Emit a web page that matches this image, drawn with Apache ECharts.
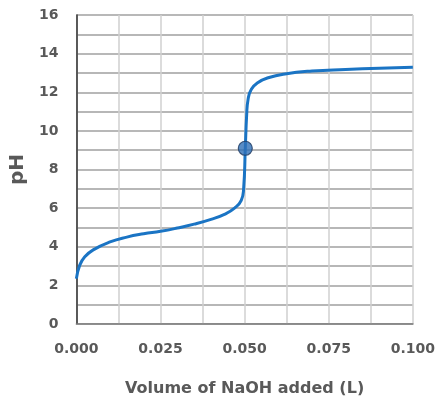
<!DOCTYPE html>
<html>
<head>
<meta charset="utf-8">
<script src="https://cdn.jsdelivr.net/npm/echarts@6/dist/echarts.min.js"></script>
<style>
  html, body { margin: 0; padding: 0; background: #ffffff; }
  #chart { width: 438px; height: 402px; }
</style>
</head>
<body>
<div id="chart"></div>
<script>
// Volume of NaOH added (L) and pH values
const volumes = [0.0000, 0.0010, 0.0025, 0.0050, 0.0100, 0.0150, 0.0200, 0.0250, 0.0300, 0.0350, 0.0400, 0.0440, 0.0470, 0.0490, 0.0497, 0.0502, 0.0506, 0.0510, 0.0520, 0.0540, 0.0570, 0.0620, 0.0700, 0.0800, 0.0900, 0.1000];
const phValues = [2.35, 3.05, 3.48, 3.84, 4.25, 4.50, 4.67, 4.80, 4.97, 5.17, 5.42, 5.68, 6.00, 6.40, 7.00, 9.10, 10.80, 11.60, 12.15, 12.50, 12.75, 12.95, 13.10, 13.18, 13.24, 13.29];
// equivalence point marker
const markerPoint = [0.0502, 9.1];
const xTickLabels = ['0.000', '0.025', '0.050', '0.075', '0.100'];

const curve = volumes.map((v, i) => [v, phValues[i]]);

const chart = echarts.init(document.getElementById('chart'), null, { renderer: 'canvas' });
const labelFont = { fontFamily: 'DejaVu Sans', fontWeight: 'bold', fontSize: 14, color: '#595959' };

chart.setOption({
  animation: false,
  backgroundColor: '#ffffff',
  grid: { left: 73, top: 15, right: 25, bottom: 76, containLabel: false },
  xAxis: [{
    type: 'value',
    min: 0, max: 0.1, interval: 0.025,
    name: 'Volume of NaOH added (L)',
    nameLocation: 'middle',
    nameGap: 57,
    nameTextStyle: { fontFamily: 'DejaVu Sans', fontWeight: 'bold', fontSize: 16, color: '#595959' },
    axisLine: { show: true, lineStyle: { color: '#d0d0d0', width: 1 } },
    axisTick: { show: false },
    minorTick: { show: false, splitNumber: 2 },
    axisLabel: Object.assign({ margin: 18, formatter: (v) => {
      const idx = Math.round(v / 0.025);
      return xTickLabels[idx] !== undefined ? xTickLabels[idx] : '';
    } }, labelFont),
    splitLine: { show: true, lineStyle: { color: '#d0d0d0', width: 1.5 } },
    minorSplitLine: { show: true, lineStyle: { color: '#d0d0d0', width: 1.5 } }
  }, {
    type: 'value',
    position: 'top',
    min: 0, max: 0.1,
    axisLine: { show: true, lineStyle: { color: '#7a7a7a', width: 1.5 } },
    axisTick: { show: false },
    axisLabel: { show: false },
    splitLine: { show: false }
  }],
  yAxis: [{
    type: 'value',
    min: 0, max: 16, interval: 2,
    name: 'pH',
    nameLocation: 'middle',
    nameGap: 40,
    nameTextStyle: { fontFamily: 'DejaVu Sans', fontWeight: 'bold', fontSize: 20, color: '#595959' },
    axisLine: { show: true, lineStyle: { color: '#d0d0d0', width: 1 } },
    axisTick: { show: false },
    minorTick: { show: false, splitNumber: 2 },
    axisLabel: Object.assign({ margin: 18 }, labelFont),
    splitLine: { show: true, lineStyle: { color: '#a0a0a0', width: 1.5 } },
    minorSplitLine: { show: true, lineStyle: { color: '#a0a0a0', width: 1.5 } }
  }, {
    type: 'value',
    position: 'right',
    min: 0, max: 16,
    axisLine: { show: true, lineStyle: { color: '#303030', width: 1.5 } },
    axisTick: { show: false },
    axisLabel: { show: false },
    splitLine: { show: false }
  }],
  series: [{
    type: 'line',
    data: curve,
    smooth: 0.5,
    showSymbol: false,
    lineStyle: { color: '#1a74c4', width: 3 },
    z: 3
  }, {
    type: 'scatter',
    data: [markerPoint],
    symbol: 'circle',
    symbolSize: 14,
    itemStyle: { color: '#2e6fb7', borderColor: '#1f3a60', borderWidth: 1.2 },
    z: 4
  }]
});
</script>
</body>
</html>
